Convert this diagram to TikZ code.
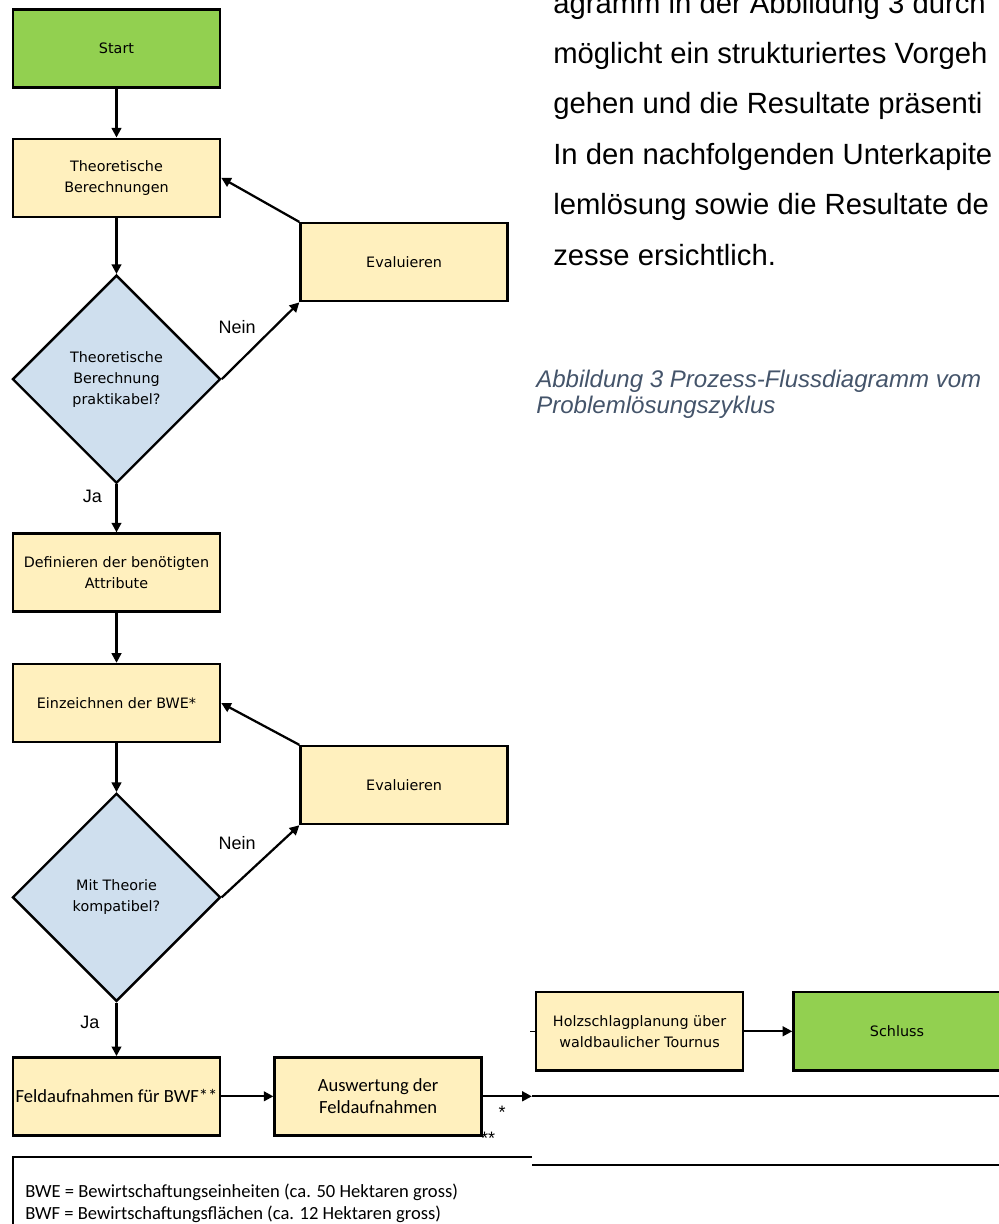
\documentclass[tikz,border=0pt]{standalone}
\usepackage{fontspec}
\setmainfont{Liberation Sans}
\newfontfamily\flowFont{DejaVu Sans}
\newfontfamily\noteFont{Carlito}
\usetikzlibrary{shapes.geometric, arrows.meta, positioning, calc}
\definecolor{startGreen}{HTML}{92D050}
\definecolor{procYellow}{HTML}{FFF0BE}
\definecolor{decBlue}{HTML}{CFDFEE}
\definecolor{capBlue}{HTML}{44546A}
\tikzset{
  flowStart/.style={rectangle, minimum width=5.175cm, minimum height=1.95cm, align=center, draw=black, fill=startGreen, line width=1.7pt, font=\flowFont\fontsize{10.2}{15}\selectfont, inner sep=2pt},
  flowProc/.style={flowStart, fill=procYellow},
  flowNote/.style={flowProc, font=\noteFont\fontsize{13.2}{15.5}\selectfont},
  flowDec/.style={diamond, aspect=1, minimum width=5.2cm, minimum height=5.2cm, align=center, draw=black, fill=decBlue, line width=1.7pt, font=\flowFont\fontsize{10.2}{15}\selectfont, inner sep=0pt},
  flowArr/.style={line width=1.6pt, -{Triangle[length=0.24cm,width=0.24cm]}},
  flowLbl/.style={font=\fontsize{12.8}{15}\selectfont, inner sep=0pt},
  railLine/.style={line width=1.6pt},
  noteText/.style={anchor=base west, inner sep=0pt, font=\noteFont\fontsize{13.2}{15.5}\selectfont},
  bodyText/.style={anchor=base west, inner sep=0pt, font=\fontsize{20.8}{25}\selectfont},
  capText/.style={anchor=base west, inner sep=0pt, text=capBlue, font=\itshape\fontsize{17.1}{20}\selectfont},
}

\begin{document}
\begin{tikzpicture}[x=0.025cm, y=-0.025cm, node distance=1.3cm]
\useasboundingbox (0,0) rectangle (999,1224);
\clip (0,0) rectangle (999,1224);

% main column
\node (start) [flowStart] at (116.5,48.5) {Start};
\node (theo) [flowProc, below=1.22cm of start] {Theoretische\\Berechnungen};
\node (dia1) [flowDec, below=1.4cm of theo] {Theoretische\\Berechnung\\praktikabel?};
\node (eval1) [flowProc, above right=1.92cm and 1.94cm of dia1.east] {Evaluieren};
\node (defin) [flowProc, below=1.2cm of dia1] {Definieren der benötigten\\Attribute};
\node (einz) [flowProc, below=1.25cm of defin] {Einzeichnen der BWE*};
\node (dia2) [flowDec, below=1.22cm of einz] {Mit Theorie\\kompatibel?};
\node (eval2) [flowProc, above right=1.8cm and 1.94cm of dia2.east] {Evaluieren};
\node (feld) [flowNote, below=1.34cm of dia2] {Feldaufnahmen für BWF**};
\node (ausw) [flowNote, right=1.3cm of feld] {Auswertung der\\Feldaufnahmen};
\node (holz) [flowProc, above right=0.62cm and 1.3cm of ausw.east] {Holzschlagplanung über\\waldbaulicher Tournus};
\node (schluss) [flowStart, right=1.2cm of holz] {Schluss};

\draw [flowArr] (start) -- (theo);
\draw [flowArr] (theo) -- (dia1);
\draw [flowArr] (dia1.east) -- node[flowLbl, pos=0.2, above=0.72cm] {Nein} (eval1.south west);
\draw [flowArr] (eval1.north west) -- (theo.east);
\draw [flowArr] (dia1) -- node[flowLbl, pos=0.24, left=0.34cm] {Ja} (defin);
\draw [flowArr] (defin) -- (einz);
\draw [flowArr] (einz) -- (dia2);
\draw [flowArr] (dia2.east) -- node[flowLbl, pos=0.2, above=0.8cm] {Nein} (eval2.south west);
\draw [flowArr] (eval2.north west) -- (einz.east);
\draw [flowArr] (dia2) -- node[flowLbl, pos=0.375, left=0.4cm] {Ja} (feld);
\draw [flowArr] (feld) -- (ausw);
\draw [flowArr] (holz) -- (schluss);

% rails on the right
\coordinate (railA) at ([xshift=1.225cm]ausw.east);
\coordinate (railB) at (532,1165);
\coordinate (railBEnd) at (1010,1165);
\coordinate (railAEnd) at (railA -| railBEnd);
\coordinate (holzStub) at ([xshift=-0.12cm]holz.west);
\draw [flowArr] (ausw.east) -- (railA);
\draw [railLine] (railA) -- (railAEnd);
\draw [railLine] (railB) -- (railBEnd);
\draw [line width=0.6pt] (holzStub) -- (holz.west);
\node (starA) [flowLbl] at (502,1112) {*};
\node (starB) [flowLbl] at (488,1138) {**};

% legend
\draw [railLine] (532,1157) -- (13,1157) -- (13,1250);
\node (bweNote) [noteText] at (25,1197) {BWE = Bewirtschaftungseinheiten (ca. 50 Hektaren gross)};
\node (bwfNote) [noteText] at (25,1219.5) {BWF = Bewirtschaftungsflächen (ca. 12 Hektaren gross)};

% running text and caption
\node (parA) [bodyText] at (553,13) {agramm in der Abbildung 3 durch};
\node (parB) [bodyText] at (553,63.4) {möglicht ein strukturiertes Vorgeh};
\node (parC) [bodyText] at (553,113.8) {gehen und die Resultate präsenti};
\node (parD) [bodyText] at (553,164.2) {In den nachfolgenden Unterkapite};
\node (parE) [bodyText] at (553,214.6) {lemlösung sowie die Resultate de};
\node (parF) [bodyText] at (553,265) {zesse ersichtlich.};
\node (capA) [capText] at (536,387) {Abbildung 3 Prozess-Flussdiagramm vom};
\node (capB) [capText] at (536,413) {Problemlösungszyklus};
\end{tikzpicture}
\end{document}
